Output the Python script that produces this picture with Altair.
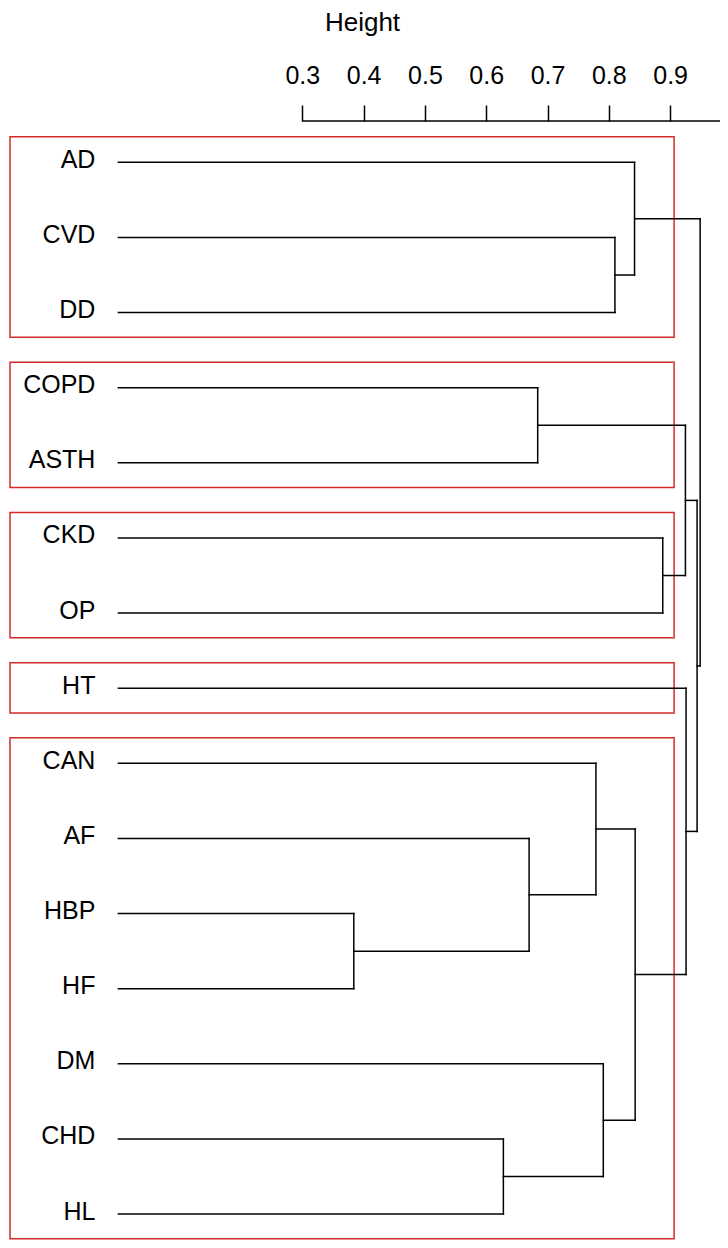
import altair as alt
import pandas as pd

# ---- data ----
leaves = ["AD", "CVD", "DD", "COPD", "ASTH", "CKD", "OP", "HT",
          "CAN", "AF", "HBP", "HF", "DM", "CHD", "HL"]
# merge table: children are leaf names or earlier merges ("m<i>")
merge_left = ["HBP", "CHD", "AF", "COPD", "CAN", "DM", "CVD", "AD",
              "m4", "CKD", "m3", "HT", "m10", "m7"]
merge_right = ["HF", "HL", "m0", "ASTH", "m2", "m1", "DD", "m6",
               "m5", "OP", "m9", "m8", "m11", "m12"]
merge_height = [0.384, 0.628, 0.670, 0.684, 0.779, 0.791, 0.810, 0.842,
                0.843, 0.888, 0.925, 0.926, 0.944, 0.949]
clusters = [1, 1, 1, 2, 2, 3, 3, 4, 5, 5, 5, 5, 5, 5, 5]
tick_values = [0.3, 0.4, 0.5, 0.6, 0.7, 0.8, 0.9]

# ---- view settings ----
XMIN, XMAX = -0.17684, 0.98140
YMIN, YMAX = -0.55, 14.345
FONT = "Liberation Sans"
RED = "#d42a2a"

# ---- layout of the tree (derived from the merge table) ----
pos = {name: (0.0, float(i)) for i, name in enumerate(leaves)}
segs = []
for k, (a, b, h) in enumerate(zip(merge_left, merge_right, merge_height)):
    xa, ya = pos[a]
    xb, yb = pos[b]
    segs.append({"x": h, "x2": h, "y": ya, "y2": yb})
    segs.append({"x": xa, "x2": h, "y": ya, "y2": ya})
    segs.append({"x": xb, "x2": h, "y": yb, "y2": yb})
    pos["m%d" % k] = (h, (ya + yb) / 2)
seg_df = pd.DataFrame(segs)

hs = sorted(merge_height, reverse=True)
n_groups = len(set(clusters))
cut = (hs[n_groups - 2] + hs[n_groups - 1]) / 2
rects = []
for c in sorted(set(clusters)):
    idx = [i for i, g in enumerate(clusters) if g == c]
    rects.append({"x": XMIN, "x2": cut, "y": min(idx) - 0.34, "y2": max(idx) + 0.33})
rect_df = pd.DataFrame(rects)

leaf_df = pd.DataFrame({"label": leaves, "x": 0.0, "y": list(range(len(leaves)))})
axis_df = pd.DataFrame({"x": [tick_values[0]], "x2": [XMAX], "y": [YMIN]})

xscale = alt.Scale(domain=[XMIN, XMAX], nice=False, zero=False)
yscale = alt.Scale(domain=[YMIN, YMAX], reverse=True, nice=False, zero=False)
xaxis = alt.Axis(
    orient="top", values=tick_values, format=".1f", title="Height",
    domain=False, grid=False, ticks=True, tickSize=16, tickWidth=1.5,
    tickColor="black", labelColor="black", labelFont=FONT, labelFontSize=25,
    labelPadding=22, labelBaseline="alphabetic", labelAlign="center",
    titleFont=FONT, titleFontSize=26, titleFontWeight="normal",
    titleColor="black", titleX=352, titleY=-91, titleAlign="center",
    titleBaseline="alphabetic", labelFlush=False, labelOverlap=False,
)

tree = alt.Chart(seg_df).mark_rule(color="black", strokeWidth=1.5, strokeCap="square").encode(
    x=alt.X("x:Q", scale=xscale, axis=xaxis),
    x2="x2:Q",
    y=alt.Y("y:Q", scale=yscale, axis=None),
    y2="y2:Q",
)

boxes = alt.Chart(rect_df).mark_rect(filled=False, color=RED, stroke=RED, strokeWidth=1.5).encode(
    x=alt.X("x:Q", scale=xscale, axis=xaxis),
    x2="x2:Q",
    y=alt.Y("y:Q", scale=yscale, axis=None),
    y2="y2:Q",
)

labels = alt.Chart(leaf_df).mark_text(
    align="right", baseline="alphabetic", dx=-23, dy=5.5,
    font=FONT, fontSize=25, color="black",
).encode(
    x=alt.X("x:Q", scale=xscale, axis=xaxis),
    y=alt.Y("y:Q", scale=yscale, axis=None),
    text="label:N",
)

axis_line = alt.Chart(axis_df).mark_rule(color="black", strokeWidth=1.5).encode(
    x=alt.X("x:Q", scale=xscale, axis=xaxis),
    x2="x2:Q",
    y=alt.Y("y:Q", scale=yscale, axis=None),
)

chart = alt.layer(boxes, tree, labels, axis_line).properties(
    width=710,
    height=1119,
    autosize=alt.AutoSizeParams(type="none"),
    padding={"left": 2, "top": 113, "right": 0, "bottom": 0},
    background="white",
).configure_view(strokeWidth=0)

chart.save("out.html", embed_options={"renderer": "svg", "actions": False})
